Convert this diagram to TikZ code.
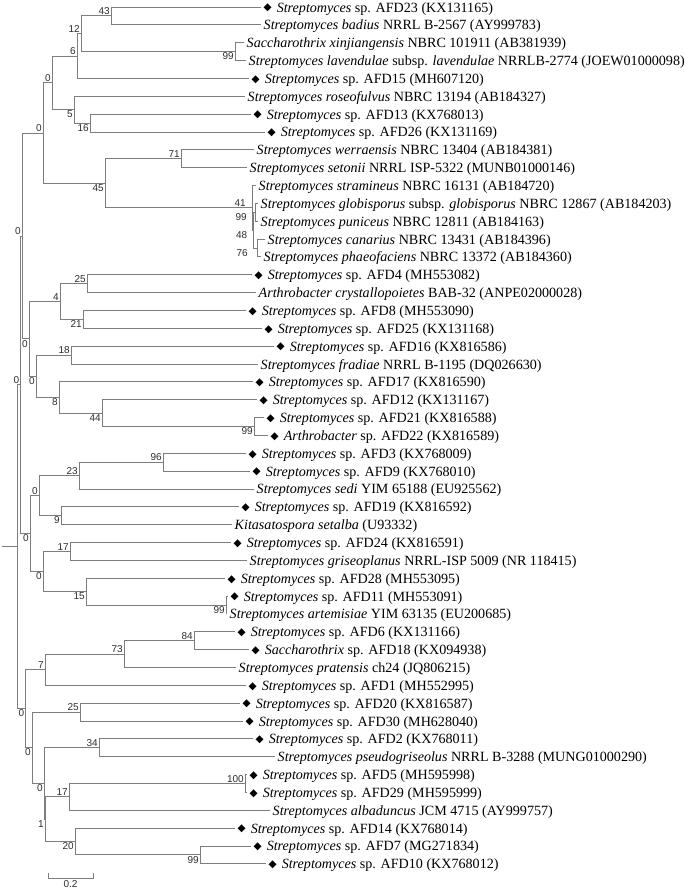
\documentclass[tikz,border=0pt]{standalone}
\usepackage{fontspec}
\setmainfont{Liberation Serif}
\newfontfamily\bsfont{Liberation Sans}
\newfontfamily\symfont{DejaVu Sans}
\usetikzlibrary{calc}
\definecolor{branch}{RGB}{125,125,125}
\definecolor{bstext}{RGB}{45,45,45}
% marker for the own isolates
\newcommand{\mrk}{\raisebox{1.2pt}{\symfont\fontsize{10.5}{10.5}\selectfont ◆}\hspace{5pt}}

\begin{document}
\begin{tikzpicture}[
    x=1pt, y=-1pt,
    br/.style={draw=branch, line width=0.9pt},
    leaf/.style={
        anchor=west, inner xsep=2.5pt, inner ysep=0pt,
        font=\fontsize{14.1}{16}\selectfont,
        text height=12pt, text depth=2pt
    },
    bsu/.style={anchor=south east, inner sep=1pt, text=bstext,
        font=\bsfont\fontsize{10}{12}\selectfont},
    bsd/.style={bsu, anchor=north east},
]
\useasboundingbox (0,0) rectangle (685,892);

% Internal nodes: x = depth, y = middle of the two children
\coordinate (root) at (17.5,546.76);
\coordinate (nD) at (20.5,384.78);
\coordinate (nA) at (22,235.98);
\coordinate (nP) at (43,133.06);
\coordinate (nQ) at (52,82.86);
\coordinate (n6) at (77,56.09);
\coordinate (n12) at (81,33.78);
\coordinate (n43) at (111,15.93);
\coordinate (n99a) at (235,51.63);
\coordinate (n5) at (74,109.64);
\coordinate (n16) at (90,123.03);
\coordinate (n45) at (105,183.27);
\coordinate (n71) at (181,158.73);
\coordinate (n41) at (252,207.81);
\coordinate (n48) at (253.5,230.13);
\coordinate (n99b) at (255,212.28);
\coordinate (n76) at (257,247.98);
\coordinate (nB) at (29,338.9);
\coordinate (n4) at (60,301.53);
\coordinate (n25a) at (87,283.68);
\coordinate (n21) at (83,319.38);
\coordinate (nC) at (36,376.28);
\coordinate (n18) at (71,355.08);
\coordinate (n8) at (59,397.47);
\coordinate (n44) at (102,413.09);
\coordinate (n99c) at (254,426.48);
\coordinate (nE) at (30,533.58);
\coordinate (nK) at (39,495.64);
\coordinate (n23) at (79,475.56);
\coordinate (n96) at (163,462.18);
\coordinate (n9) at (61,515.73);
\coordinate (nL) at (43,571.51);
\coordinate (n17a) at (70,551.43);
\coordinate (n15) at (86,591.59);
\coordinate (n99d) at (226,604.98);
\coordinate (nF) at (25.5,708.73);
\coordinate (n7) at (45,669.68);
\coordinate (n73) at (124,654.06);
\coordinate (n84) at (194,640.68);
\coordinate (nN) at (32,747.78);
\coordinate (n25b) at (80,712.08);
\coordinate (nM) at (44,783.48);
\coordinate (n34) at (99,747.78);
\coordinate (n1) at (45,819.18);
\coordinate (n17b) at (69,796.86);
\coordinate (n100) at (245,783.48);
\coordinate (n20) at (75,841.49);
\coordinate (n99e) at (200,854.88);
\coordinate (stem) at (1.5,546.76);

% Leaves (branch ends)
\node[leaf] (l1) at (261,7.00) {\mrk\textit{Streptomyces} sp. AFD23 (KX131165)};
\node[leaf] (l2) at (261,24.85) {\textit{Streptomyces badius} NRRL B-2567 (AY999783)};
\node[leaf] (l3) at (244,42.70) {\textit{Saccharothrix xinjiangensis} NBRC 101911 (AB381939)};
\node[leaf] (l4) at (246,60.55) {\textit{Streptomyces lavendulae} subsp. \textit{lavendulae} NRRLB-2774 (JOEW01000098)};
\node[leaf] (l5) at (249,78.40) {\mrk\textit{Streptomyces} sp. AFD15 (MH607120)};
\node[leaf] (l6) at (245,96.25) {\textit{Streptomyces roseofulvus} NBRC 13194 (AB184327)};
\node[leaf] (l7) at (251,114.10) {\mrk\textit{Streptomyces} sp. AFD13 (KX768013)};
\node[leaf] (l8) at (265,131.95) {\mrk\textit{Streptomyces} sp. AFD26 (KX131169)};
\node[leaf] (l9) at (254,149.80) {\textit{Streptomyces werraensis} NBRC 13404 (AB184381)};
\node[leaf] (l10) at (247,167.65) {\textit{Streptomyces setonii} NRRL ISP-5322 (MUNB01000146)};
\node[leaf] (l11) at (256,185.50) {\textit{Streptomyces stramineus} NBRC 16131 (AB184720)};
\node[leaf] (l12) at (258,203.35) {\textit{Streptomyces globisporus} subsp. \textit{globisporus} NBRC 12867 (AB184203)};
\node[leaf] (l13) at (258,221.20) {\textit{Streptomyces puniceus} NBRC 12811 (AB184163)};
\node[leaf] (l14) at (265,239.05) {\textit{Streptomyces canarius} NBRC 13431 (AB184396)};
\node[leaf] (l15) at (261,256.90) {\textit{Streptomyces phaeofaciens} NBRC 13372 (AB184360)};
\node[leaf] (l16) at (252,274.75) {\mrk\textit{Streptomyces} sp. AFD4 (MH553082)};
\node[leaf] (l17) at (256,292.60) {\textit{Arthrobacter crystallopoietes} BAB-32 (ANPE02000028)};
\node[leaf] (l18) at (246,310.45) {\mrk\textit{Streptomyces} sp. AFD8 (MH553090)};
\node[leaf] (l19) at (262,328.30) {\mrk\textit{Streptomyces} sp. AFD25 (KX131168)};
\node[leaf] (l20) at (274,346.15) {\mrk\textit{Streptomyces} sp. AFD16 (KX816586)};
\node[leaf] (l21) at (258,364.00) {\textit{Streptomyces fradiae} NRRL B-1195 (DQ026630)};
\node[leaf] (l22) at (253,381.85) {\mrk\textit{Streptomyces} sp. AFD17 (KX816590)};
\node[leaf] (l23) at (257,399.70) {\mrk\textit{Streptomyces} sp. AFD12 (KX131167)};
\node[leaf] (l24) at (264,417.55) {\mrk\textit{Streptomyces} sp. AFD21 (KX816588)};
\node[leaf] (l25) at (268,435.40) {\mrk\textit{Arthrobacter} sp. AFD22 (KX816589)};
\node[leaf] (l26) at (246,453.25) {\mrk\textit{Streptomyces} sp. AFD3 (KX768009)};
\node[leaf] (l27) at (250,471.10) {\mrk\textit{Streptomyces} sp. AFD9 (KX768010)};
\node[leaf] (l28) at (254,488.95) {\textit{Streptomyces sedi} YIM 65188 (EU925562)};
\node[leaf] (l29) at (239,506.80) {\mrk\textit{Streptomyces} sp. AFD19 (KX816592)};
\node[leaf] (l30) at (232,524.65) {\textit{Kitasatospora setalba} (U93332)};
\node[leaf] (l31) at (231,542.50) {\mrk\textit{Streptomyces} sp. AFD24 (KX816591)};
\node[leaf] (l32) at (247,560.35) {\textit{Streptomyces griseoplanus} NRRL-ISP 5009 (NR 118415)};
\node[leaf] (l33) at (225,578.20) {\mrk\textit{Streptomyces} sp. AFD28 (MH553095)};
\node[leaf] (l34) at (228,596.05) {\mrk\textit{Streptomyces} sp. AFD11 (MH553091)};
\node[leaf] (l35) at (227,613.90) {\textit{Streptomyces artemisiae} YIM 63135 (EU200685)};
\node[leaf] (l36) at (235,631.75) {\mrk\textit{Streptomyces} sp. AFD6 (KX131166)};
\node[leaf] (l37) at (249,649.60) {\mrk\textit{Saccharothrix} sp. AFD18 (KX094938)};
\node[leaf] (l38) at (236,667.45) {\textit{Streptomyces pratensis} ch24 (JQ806215)};
\node[leaf] (l39) at (246,685.30) {\mrk\textit{Streptomyces} sp. AFD1 (MH552995)};
\node[leaf] (l40) at (240,703.15) {\mrk\textit{Streptomyces} sp. AFD20 (KX816587)};
\node[leaf] (l41) at (243,721.00) {\mrk\textit{Streptomyces} sp. AFD30 (MH628040)};
\node[leaf] (l42) at (253,738.85) {\mrk\textit{Streptomyces} sp. AFD2 (KX768011)};
\node[leaf] (l43) at (275,756.70) {\textit{Streptomyces pseudogriseolus} NRRL B-3288 (MUNG01000290)};
\node[leaf] (l44) at (247,774.55) {\mrk\textit{Streptomyces} sp. AFD5 (MH595998)};
\node[leaf] (l45) at (247,792.40) {\mrk\textit{Streptomyces} sp. AFD29 (MH595999)};
\node[leaf] (l46) at (270,810.25) {\textit{Streptomyces albaduncus} JCM 4715 (AY999757)};
\node[leaf] (l47) at (235,828.10) {\mrk\textit{Streptomyces} sp. AFD14 (KX768014)};
\node[leaf] (l48) at (251,845.95) {\mrk\textit{Streptomyces} sp. AFD7 (MG271834)};
\node[leaf] (l49) at (266,863.80) {\mrk\textit{Streptomyces} sp. AFD10 (KX768012)};

% Branches
\draw[br] (stem) -- (root);
\draw[br] (root) |- (nD) (root) |- (nF);
\draw[br] (nD) |- (nA) (nD) |- (nE);
\draw[br] (nA) |- (nP) (nA) |- (nB);
\draw[br] (nP) |- (nQ) (nP) |- (n45);
\draw[br] (nQ) |- (n6) (nQ) |- (n5);
\draw[br] (n6) |- (n12) (n6) |- (l5);
\draw[br] (n12) |- (n43) (n12) |- (n99a);
\draw[br] (n43) |- (l1) (n43) |- (l2);
\draw[br] (n99a) |- (l3) (n99a) |- (l4);
\draw[br] (n5) |- (l6) (n5) |- (n16);
\draw[br] (n16) |- (l7) (n16) |- (l8);
\draw[br] (n45) |- (n71) (n45) |- (n41);
\draw[br] (n71) |- (l9) (n71) |- (l10);
\draw[br] (n41) |- (l11) (n41) |- (n48);
\draw[br] (n48) |- (n99b) (n48) |- (n76);
\draw[br] (n99b) |- (l12) (n99b) |- (l13);
\draw[br] (n76) |- (l14) (n76) |- (l15);
\draw[br] (nB) |- (n4) (nB) |- (nC);
\draw[br] (n4) |- (n25a) (n4) |- (n21);
\draw[br] (n25a) |- (l16) (n25a) |- (l17);
\draw[br] (n21) |- (l18) (n21) |- (l19);
\draw[br] (nC) |- (n18) (nC) |- (n8);
\draw[br] (n18) |- (l20) (n18) |- (l21);
\draw[br] (n8) |- (l22) (n8) |- (n44);
\draw[br] (n44) |- (l23) (n44) |- (n99c);
\draw[br] (n99c) |- (l24) (n99c) |- (l25);
\draw[br] (nE) |- (nK) (nE) |- (nL);
\draw[br] (nK) |- (n23) (nK) |- (n9);
\draw[br] (n23) |- (n96) (n23) |- (l28);
\draw[br] (n96) |- (l26) (n96) |- (l27);
\draw[br] (n9) |- (l29) (n9) |- (l30);
\draw[br] (nL) |- (n17a) (nL) |- (n15);
\draw[br] (n17a) |- (l31) (n17a) |- (l32);
\draw[br] (n15) |- (l33) (n15) |- (n99d);
\draw[br] (n99d) |- (l34) (n99d) |- (l35);
\draw[br] (nF) |- (n7) (nF) |- (nN);
\draw[br] (n7) |- (n73) (n7) |- (l39);
\draw[br] (n73) |- (n84) (n73) |- (l38);
\draw[br] (n84) |- (l36) (n84) |- (l37);
\draw[br] (nN) |- (n25b) (nN) |- (nM);
\draw[br] (n25b) |- (l40) (n25b) |- (l41);
\draw[br] (nM) |- (n34) (nM) |- (n1);
\draw[br] (n34) |- (l42) (n34) |- (l43);
\draw[br] (n1) |- (n17b) (n1) |- (n20);
\draw[br] (n17b) |- (n100) (n17b) |- (l46);
\draw[br] (n100) |- (l44) (n100) |- (l45);
\draw[br] (n20) |- (l47) (n20) |- (n99e);
\draw[br] (n99e) |- (l48) (n99e) |- (l49);

% Bootstrap values (upper child above, lower child below)
\node[bsu] (bD) at (nD) {0};
\node[bsu] (bA) at (nA) {0};
\node[bsu] (bP) at (nP) {0};
\node[bsu] (bQ) at (nQ) {0};
\node[bsu] (b6) at (n6) {6};
\node[bsu] (b12) at (n12) {12};
\node[bsu] (b43) at (n43) {43};
\node[bsd] (b99a) at (n99a) {99};
\node[bsd] (b5) at (n5) {5};
\node[bsd] (b16) at (n16) {16};
\node[bsd] (b45) at (n45) {45};
\node[bsu] (b71) at (n71) {71};
\node[bsu, xshift=-5pt] (b41) at (n41) {41};
\node[bsd, xshift=-5pt] (b48) at (n48) {48};
\node[bsd, xshift=-7pt] (b99b) at (n99b) {99};
\node[bsd, xshift=-8pt] (b76) at (n76) {76};
\node[bsd] (bB) at (nB) {0};
\node[bsu] (b4) at (n4) {4};
\node[bsu] (b25a) at (n25a) {25};
\node[bsd] (b21) at (n21) {21};
\node[bsd] (bC) at (nC) {0};
\node[bsu] (b18) at (n18) {18};
\node[bsd] (b8) at (n8) {8};
\node[bsd] (b44) at (n44) {44};
\node[bsd] (b99c) at (n99c) {99};
\node[bsd] (bE) at (nE) {0};
\node[bsu] (bK) at (nK) {0};
\node[bsu] (b23) at (n23) {23};
\node[bsu] (b96) at (n96) {96};
\node[bsd] (b9) at (n9) {9};
\node[bsd] (bL) at (nL) {0};
\node[bsu] (b17a) at (n17a) {17};
\node[bsd] (b15) at (n15) {15};
\node[bsd] (b99d) at (n99d) {99};
\node[bsd] (bF) at (nF) {0};
\node[bsu] (b7) at (n7) {7};
\node[bsu] (b73) at (n73) {73};
\node[bsu] (b84) at (n84) {84};
\node[bsd] (bN) at (nN) {0};
\node[bsu] (b25b) at (n25b) {25};
\node[bsd] (bM) at (nM) {0};
\node[bsu] (b34) at (n34) {34};
\node[bsd] (b1) at (n1) {1};
\node[bsu] (b17b) at (n17b) {17};
\node[bsu] (b100) at (n100) {100};
\node[bsd] (b20) at (n20) {20};
\node[bsd] (b99e) at (n99e) {99};

% Scale bar
\coordinate (sbl) at (48,878);
\coordinate (sbr) at (93,878);
\draw[br] (sbl) ++(0,-5) -- (sbl) -- (sbr) -- ++(0,-5);
\node[anchor=north, inner sep=2pt, text=bstext, font=\bsfont\fontsize{10}{12}\selectfont]
    (sblbl) at ($(sbl)!0.5!(sbr)$) {0.2};
\end{tikzpicture}
\end{document}
